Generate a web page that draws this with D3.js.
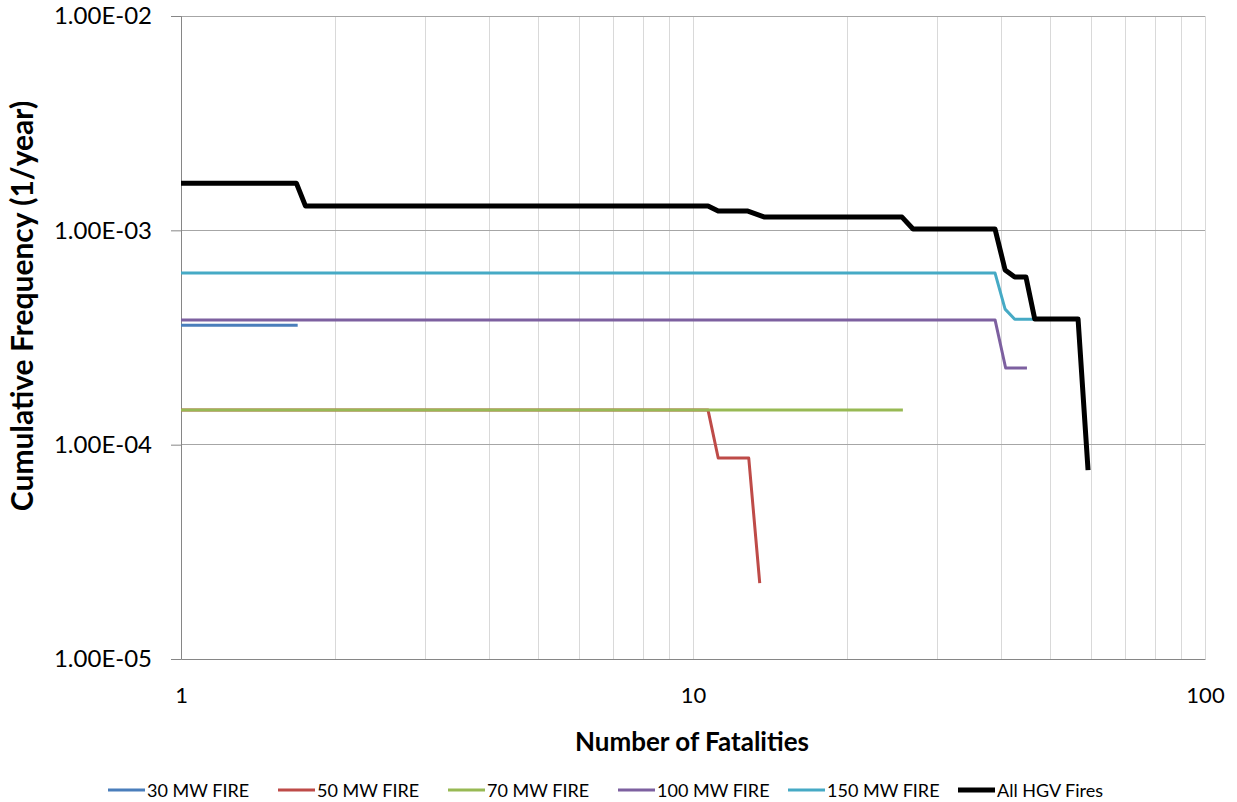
<!DOCTYPE html>
<html>
<head>
<meta charset="utf-8">
<script src="https://cdn.jsdelivr.net/npm/d3@7"></script>
<style>
  body { margin: 0; background: #fff; }
  svg { display: block; font-family: Lato, "Open Sans", sans-serif; }
</style>
</head>
<body>
<svg id="chart" width="1237" height="802"></svg>
<script>
// series (x = fatalities, y = cumulative frequency)
const fire30X = [1, 1.69];
const fire30Y = [3.61e-4, 3.61e-4];
const fire50X = [1, 10.7, 11.2, 12.85, 13.5];
const fire50Y = [1.45e-4, 1.45e-4, 8.66e-5, 8.66e-5, 2.26e-5];
const fire70X = [1, 25.7];
const fire70Y = [1.45e-4, 1.45e-4];
const fire100X = [1, 38.9, 40.8, 44.9];
const fire100Y = [3.82e-4, 3.82e-4, 2.28e-4, 2.28e-4];
const fire150X = [1, 38.9, 40.7, 42.5, 46.5];
const fire150Y = [6.32e-4, 6.32e-4, 4.29e-4, 3.85e-4, 3.85e-4];
const hgvX = [1, 1.68, 1.75, 10.7, 11.2, 12.8, 13.8, 25.6, 26.9, 38.9, 40.7, 42.5, 44.7, 46.5, 56.5, 59.1];
const hgvY = [1.66e-3, 1.66e-3, 1.30e-3, 1.30e-3, 1.23e-3, 1.23e-3, 1.153e-3, 1.153e-3,
              1.014e-3, 1.014e-3, 6.53e-4, 6.05e-4, 6.05e-4, 3.86e-4, 3.86e-4, 7.61e-5];

const seriesNames = ['30 MW FIRE', '50 MW FIRE', '70 MW FIRE', '100 MW FIRE', '150 MW FIRE', 'All HGV Fires'];
const xTicks = [1, 10, 100];
const yTicks = [1e-5, 1e-4, 1e-3, 1e-2];

const colors = ['#4a7ebb', '#be4b48', '#98b954', '#7d60a0', '#46aac5', '#000000'];
const widths = [3, 3, 3, 3, 3, 5];

const series = [
  [fire30X, fire30Y], [fire50X, fire50Y], [fire70X, fire70Y],
  [fire100X, fire100Y], [fire150X, fire150Y], [hgvX, hgvY]
].map(([xs, ys], i) => ({
  name: seriesNames[i],
  points: xs.map((x, j) => ({ x, y: ys[j] }))
}));

const svg = d3.select('#chart');
const plot = { left: 181, right: 1205, top: 16, bottom: 659 };

const x = d3.scaleLog().domain([1, 100]).range([plot.left, plot.right]);
const y = d3.scaleLog().domain([1e-5, 1e-2]).range([plot.bottom, plot.top]);

// minor vertical gridlines
const minorX = [];
[1, 10].forEach(d => { for (let k = 2; k <= 9; k++) minorX.push(d * k); });
svg.append('g').selectAll('line')
  .data(minorX.concat([10, 100])).enter().append('line')
  .attr('x1', d => x(d)).attr('x2', d => x(d))
  .attr('y1', plot.top).attr('y2', plot.bottom)
  .attr('stroke', '#d9d9d9').attr('stroke-width', 1)
  .attr('shape-rendering', 'crispEdges');

// major horizontal gridlines
svg.append('g').selectAll('line')
  .data(yTicks.slice(1)).enter().append('line')
  .attr('x1', plot.left).attr('x2', plot.right)
  .attr('y1', d => y(d)).attr('y2', d => y(d))
  .attr('stroke', '#a6a6a6').attr('stroke-width', 1)
  .attr('shape-rendering', 'crispEdges');

// y axis
const yAxis = d3.axisLeft(y).tickValues(yTicks).tickSize(10).tickPadding(19)
  .tickFormat(d => d.toExponential(2).replace('e-', 'E-0').toUpperCase());
const gy = svg.append('g').attr('transform', `translate(${plot.left},0)`).call(yAxis);
gy.select('.domain').attr('stroke', '#868686');
gy.selectAll('.tick line').attr('stroke', '#868686');
gy.selectAll('.tick text').attr('font-size', 24).attr('fill', '#000')
  .attr('font-family', 'Lato, sans-serif');

// x axis
const xAxis = d3.axisBottom(x).tickValues(xTicks).tickSize(0).tickPadding(28)
  .tickFormat(d3.format('d'));
const gx = svg.append('g').attr('transform', `translate(0,${plot.bottom})`).call(xAxis);
gx.select('.domain').attr('stroke', '#868686');
gx.selectAll('.tick text').attr('font-size', 22).attr('fill', '#000')
  .attr('font-family', 'Lato, sans-serif');

// lines
const line = d3.line().x(d => x(d.x)).y(d => y(d.y));
svg.append('g').selectAll('path')
  .data(series).enter().append('path')
  .attr('d', d => line(d.points))
  .attr('fill', 'none')
  .attr('stroke', (d, i) => colors[i])
  .attr('stroke-width', (d, i) => widths[i])
  .attr('stroke-linejoin', 'round');

// axis titles
svg.append('text')
  .attr('x', 692).attr('y', 751)
  .attr('text-anchor', 'middle')
  .attr('font-size', 26).attr('font-weight', 'bold')
  .text('Number of Fatalities');

svg.append('text')
  .attr('transform', 'translate(33,306) rotate(-90)')
  .attr('text-anchor', 'middle')
  .attr('font-size', 30).attr('font-weight', 'bold')
  .text('Cumulative Frequency (1/year)');

// legend
const legend = svg.append('g').attr('transform', 'translate(108,790)');
const item = legend.selectAll('g').data(series).enter().append('g')
  .attr('transform', (d, i) => `translate(${i * 170},0)`);
item.append('line')
  .attr('x1', 0).attr('x2', 37).attr('y1', 0).attr('y2', 0)
  .attr('stroke', (d, i) => colors[i])
  .attr('stroke-width', (d, i) => widths[i]);
item.append('text')
  .attr('x', 39).attr('y', 7)
  .attr('font-size', 18)
  .text(d => d.name);
</script>
</body>
</html>
